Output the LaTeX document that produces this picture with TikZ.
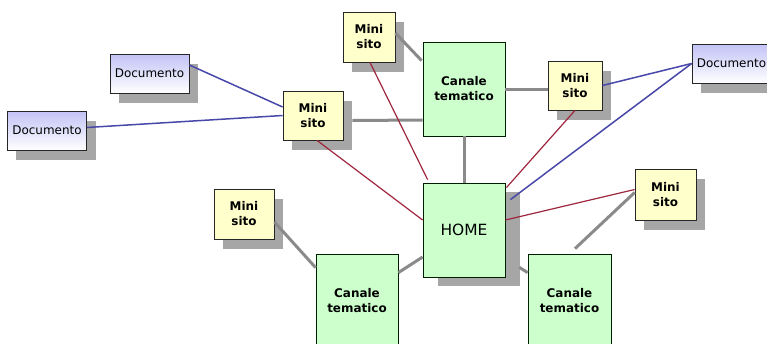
\documentclass[tikz,border=0pt]{standalone}
\usepackage{fontspec}
\setmainfont{DejaVu Sans}
\usepackage{tikz}
\usetikzlibrary{calc,shadows}
\definecolor{docblue}{RGB}{194,194,246}
\definecolor{minifill}{RGB}{255,255,204}
\definecolor{canfill}{RGB}{204,255,204}
\definecolor{shd}{RGB}{166,166,166}
\definecolor{lnkgrey}{RGB}{138,138,138}
\definecolor{lnkred}{RGB}{158,38,62}
\definecolor{lnkblue}{RGB}{72,72,170}
\tikzset{
  sh/.style={drop shadow={shadow xshift=9bp,shadow yshift=-10bp,fill=shd,opacity=1}},
  shh/.style={drop shadow={shadow xshift=15bp,shadow yshift=-9bp,fill=shd,opacity=1}},
  doc/.style={rectangle,draw=black!85,top color=docblue,bottom color=white,minimum width=79bp,
              minimum height=39bp,inner sep=0pt,line width=.8pt,font=\fontsize{12}{14}\selectfont,sh},
  mini/.style={rectangle,draw=black!85,fill=minifill,minimum width=60bp,minimum height=49bp,
               inner sep=0pt,line width=.8pt,align=center,font=\fontsize{12}{15}\selectfont\bfseries,sh},
  can/.style={rectangle,draw=black!80!green!60!black,fill=canfill,minimum width=82bp,minimum height=94bp,
              inner sep=0pt,line width=.8pt,align=center,font=\fontsize{12}{15}\selectfont\bfseries},
  gl/.style={draw=lnkgrey,line width=3bp},
  rl/.style={draw=lnkred,line width=1.2bp},
  bl/.style={draw=lnkblue,line width=1.5bp},
}
\begin{document}
\begin{tikzpicture}[x=1bp,y=-1bp]
\useasboundingbox (0,0) rectangle (767,343);
\clip (0,0) rectangle (767,343);
% documents
\node[doc] (doc1) at (149.5,73.5) {Documento};
\node[doc] (doc2) at (47,130.5) {Documento};
\node[doc] (doc3) at (731.5,63.5) {Documento};
% mini siti
\node[mini] (m1) at (313,115.5) {Mini\\sito};
\node[mini,minimum width=52bp,minimum height=50bp] (m2) at (369,37) {Mini\\sito};
\node[mini,minimum width=54bp] (m3) at (575,85.5) {Mini\\sito};
\node[mini,minimum width=61bp,minimum height=51bp] (m4) at (665.5,194.5) {Mini\\sito};
\node[mini,minimum height=50bp] (m5) at (244,214) {Mini\\sito};
% canali and home
\node[can] (c1) at (464,89) {Canale\\tematico};
\node[can] (c2) at (357,301) {Canale\\tematico};
\node[can,minimum width=83bp] (c3) at (569.5,301) {Canale\\tematico};
\node[can,shh,font=\fontsize{15.5}{18}\selectfont] (home) at (464,230) {HOME};
% grey links
\draw[gl] ($(m2.east)+(0,-4)$) -- ($(c1.north west)+(-1,19)$);
\draw[gl] ($(m1.east)+(9,5)$) -- ($(c1.west)+(0,31)$);
\draw[gl] (c1.east) -- (c1.east -| m3.west);
\draw[gl] (c1.south) -- (home.north);
\draw[gl] ($(home.west)+(0,27)$) -- ($(c2.north east)+(0,19)$);
\draw[gl] ($(m5.east)+(0,8)$) -- ($(c2.north west)+(0,14)$);
\draw[gl] ($(home.south east)+(14,-10)$) -- ($(c3.north west)+(0,19)$);
\draw[gl] ($(c3.north)+(5.5,-5)$) -- ($(m4.west)+(0,-2)$);
% red links
\draw[rl] ($(m2.south)+(1,0)$) -- ($(home.north west)+(5,-3)$);
\draw[rl] ($(m1.south)+(4,0)$) -- ($(home.west)+(0,-10)$);
\draw[rl] (m3.south) -- ($(home.north east)+(1,5)$);
\draw[rl] ($(m4.west)+(0,-5)$) -- ($(home.east)+(0,-10)$);
% blue links
\draw[bl] ($(doc1.east)+(0,-8.5)$) -- ($(m1.west)+(0,-8.5)$);
\draw[bl] ($(doc2.east)+(0,-3)$) -- (m1.west);
\draw[bl] (m3.east) -- (doc3.west);
\draw[bl] ($(home.north east)+(5,17)$) -- (doc3.west);
\end{tikzpicture}
\end{document}
